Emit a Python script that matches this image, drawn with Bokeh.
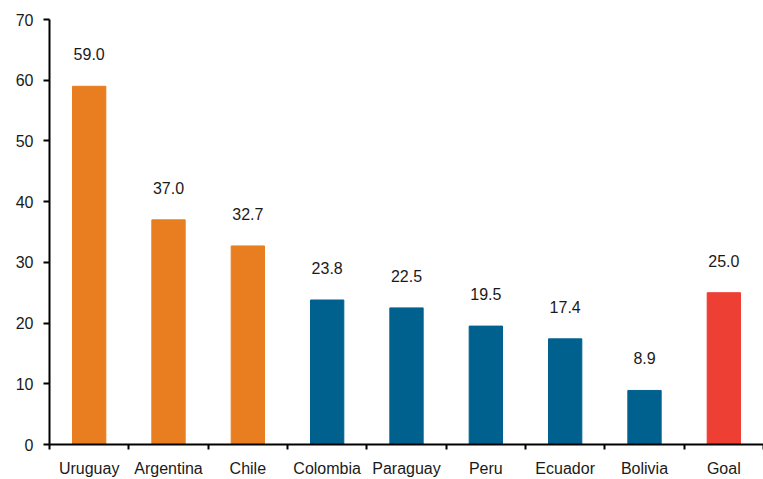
from bokeh.plotting import figure
from bokeh.models import ColumnDataSource, FixedTicker, Range1d
from bokeh.core.properties import value
from bokeh.embed import file_html
from bokeh.resources import INLINE

countries = ["Uruguay", "Argentina", "Chile", "Colombia", "Paraguay", "Peru", "Ecuador", "Bolivia", "Goal"]
values = [59.0, 37.0, 32.7, 23.8, 22.5, 19.5, 17.4, 8.9, 25.0]
colors = ["#E87E1F", "#E87E1F", "#E87E1F", "#00618F", "#00618F", "#00618F", "#00618F", "#00618F", "#EE3F35"]
y_ticks = [0, 10, 20, 30, 40, 50, 60, 70]

positions = [i + 0.5 for i in range(len(countries))]
labels = ["%.1f" % v for v in values]

src = ColumnDataSource(dict(x=positions, top=values, color=colors, label=labels))

p = figure(width=763, height=479, output_backend="svg", toolbar_location=None,
           x_range=Range1d(0, len(countries)), y_range=Range1d(0, 70))
p.min_border_left = 49
p.min_border_right = 0
p.min_border_top = 19
p.min_border_bottom = 35
p.outline_line_color = None
p.grid.visible = False
p.background_fill_color = "white"

p.vbar(x="x", top="top", width=0.42, color="color", source=src)
p.text(x="x", y="top", text="label", source=src, y_offset=-32,
       text_align="center", text_baseline="middle",
       text_font=value("Liberation Sans"), text_font_size="16px", text_color="#1a1a1a")

xa = p.xaxis[0]
xa.ticker = FixedTicker(ticks=positions, minor_ticks=list(range(len(countries) + 1)))
xa.major_label_overrides = {p_: c for p_, c in zip(positions, countries)}
xa.major_tick_out = 0
xa.major_tick_in = 0
xa.minor_tick_out = 5
xa.minor_tick_in = 0
xa.minor_tick_line_width = 2
xa.minor_tick_line_color = "black"
xa.axis_line_width = 2
xa.axis_line_color = "black"
xa.major_label_standoff = 10
xa.major_label_text_font = "Liberation Sans"
xa.major_label_text_font_size = "16px"
xa.major_label_text_color = "#1a1a1a"

ya = p.yaxis[0]
ya.ticker = FixedTicker(ticks=y_ticks)
ya.major_tick_out = 6
ya.major_tick_in = 0
ya.minor_tick_out = 0
ya.minor_tick_in = 0
ya.major_tick_line_width = 2
ya.major_tick_line_color = "black"
ya.axis_line_width = 2
ya.axis_line_color = "black"
ya.major_label_standoff = 10
ya.major_label_text_font = "Liberation Sans"
ya.major_label_text_font_size = "16px"
ya.major_label_text_color = "#1a1a1a"

open("out.html", "w").write(file_html(p, INLINE))
